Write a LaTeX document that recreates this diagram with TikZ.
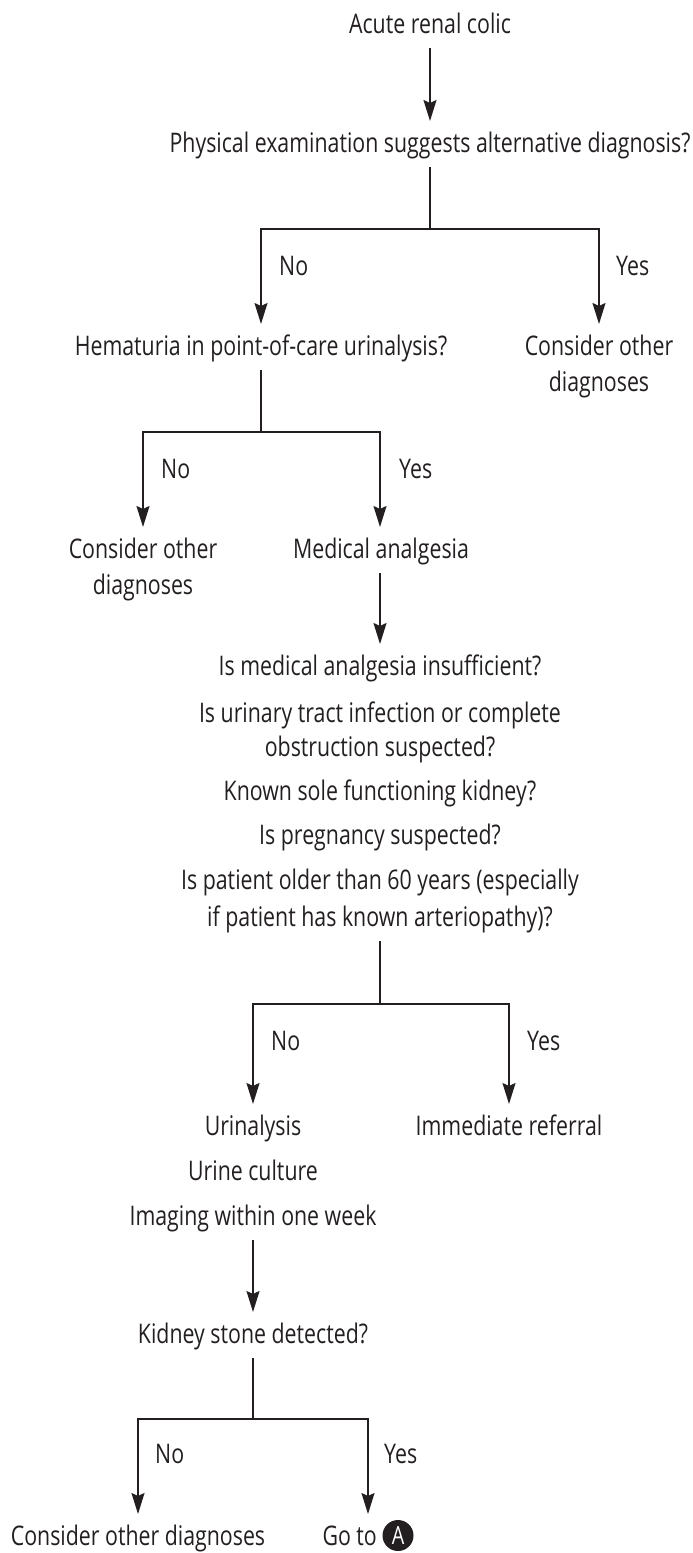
\documentclass[tikz,border=0pt]{standalone}
\usepackage{fontspec}
\setmainfont{Open Sans}[FakeStretch=0.79]
\usetikzlibrary{arrows.meta}
\definecolor{ink}{RGB}{35,31,32}
\begin{document}
\begin{tikzpicture}[x=1pt,y=-1pt,
  t/.style={anchor=base, inner sep=0pt, outer xsep=0pt, outer ysep=9pt,
            text height=22pt, text depth=6pt, text=ink,
            font=\fontsize{27}{33}\selectfont},
  lbl/.style={anchor=base west, inner sep=0pt, text=ink,
            font=\fontsize{27}{33}\selectfont},
  ln/.style={draw=ink, line width=1.6pt},
  arr/.style={ln, -{Stealth[length=21pt,width=13pt,inset=3pt]}},
  circA/.style={circle, fill=ink, text=white, inner sep=0pt, minimum size=31pt,
            font=\fontsize{25}{25}\selectfont}
]
\useasboundingbox (0,0) rectangle (693,1553);

% texts
\node[t] (acute) at (430,33) {Acute renal colic};
\node[t] (phys)  at (430,152) {Physical examination suggests alternative diagnosis?};
\node[t] (hema)  at (261,355) {Hematuria in point-of-care urinalysis?};
\node[t] (cod1a) at (599,355) {Consider other};
\node[t] (cod1b) at (599,391) {diagnoses};
\node[t] (cod2a) at (143,558) {Consider other};
\node[t] (cod2b) at (143,594) {diagnoses};
\node[t] (med)   at (381,558) {Medical analgesia};
\node[t] (q1)    at (380,675) {Is medical analgesia insufficient?};
\node[t] (q2a)   at (380,722) {Is urinary tract infection or complete};
\node[t] (q2b)   at (380,756) {obstruction suspected?};
\node[t] (q3)    at (380,800) {Known sole functioning kidney?};
\node[t] (q4)    at (380,844) {Is pregnancy suspected?};
\node[t] (q5a)   at (380,889) {Is patient older than 60 years (especially};
\node[t] (q5b)   at (380,926) {if patient has known arteriopathy)?};
\node[t] (urin)  at (253,1135) {Urinalysis};
\node[t] (refer) at (509,1135) {Immediate referral};
\node[t] (cult)  at (253,1180) {Urine culture};
\node[t] (imag)  at (253,1225) {Imaging within one week};
\node[t] (kid)   at (253,1343) {Kidney stone detected?};
\node[t] (cod3)  at (138,1545) {Consider other diagnoses};
\node[t] (goto)  at (368,1545) {\makebox[91pt][l]{Go to}};
\node[circA] (cA) at ([xshift=-15.5pt,yshift=9.5pt]goto.base east) {A};

% junctions
\coordinate (j1) at (430,229);
\coordinate (j2) at (261,432);
\coordinate (j3) at (380,1004);
\coordinate (j4) at (253,1419);

% connectors
\draw[arr] (acute.south) -- (phys.north);
\draw[ln]  (phys.south) -- (j1);
\draw[arr] (j1) -| (hema.north);
\draw[arr] (j1) -| (cod1a.north);

\draw[ln]  (hema.south) -- (j2);
\draw[arr] (j2) -| (cod2a.north);
\draw[arr] (j2) -| ([xshift=-1pt]med.north);

\draw[arr] ([xshift=-1pt]med.south) -- (q1.north);
\draw[ln]  (q5b.south) -- (j3);
\draw[arr] (j3) -| (urin.north);
\draw[arr] (j3) -| (refer.north);

\draw[arr] (imag.south) -- (kid.north);
\draw[ln]  (kid.south) -- (j4);
\draw[arr] (j4) -| (cod3.north);
\draw[arr] (j4) -| (goto.north);

% branch labels
\node[lbl] (n1) at (279,275) {No};
\node[lbl] (y1) at (616,275) {Yes};
\node[lbl] (n2) at (161,478) {No};
\node[lbl] (y2) at (399,478) {Yes};
\node[lbl] (n3) at (271,1050) {No};
\node[lbl] (y3) at (527,1050) {Yes};
\node[lbl] (n4) at (155,1463) {No};
\node[lbl] (y4) at (384,1463) {Yes};
\end{tikzpicture}
\end{document}
